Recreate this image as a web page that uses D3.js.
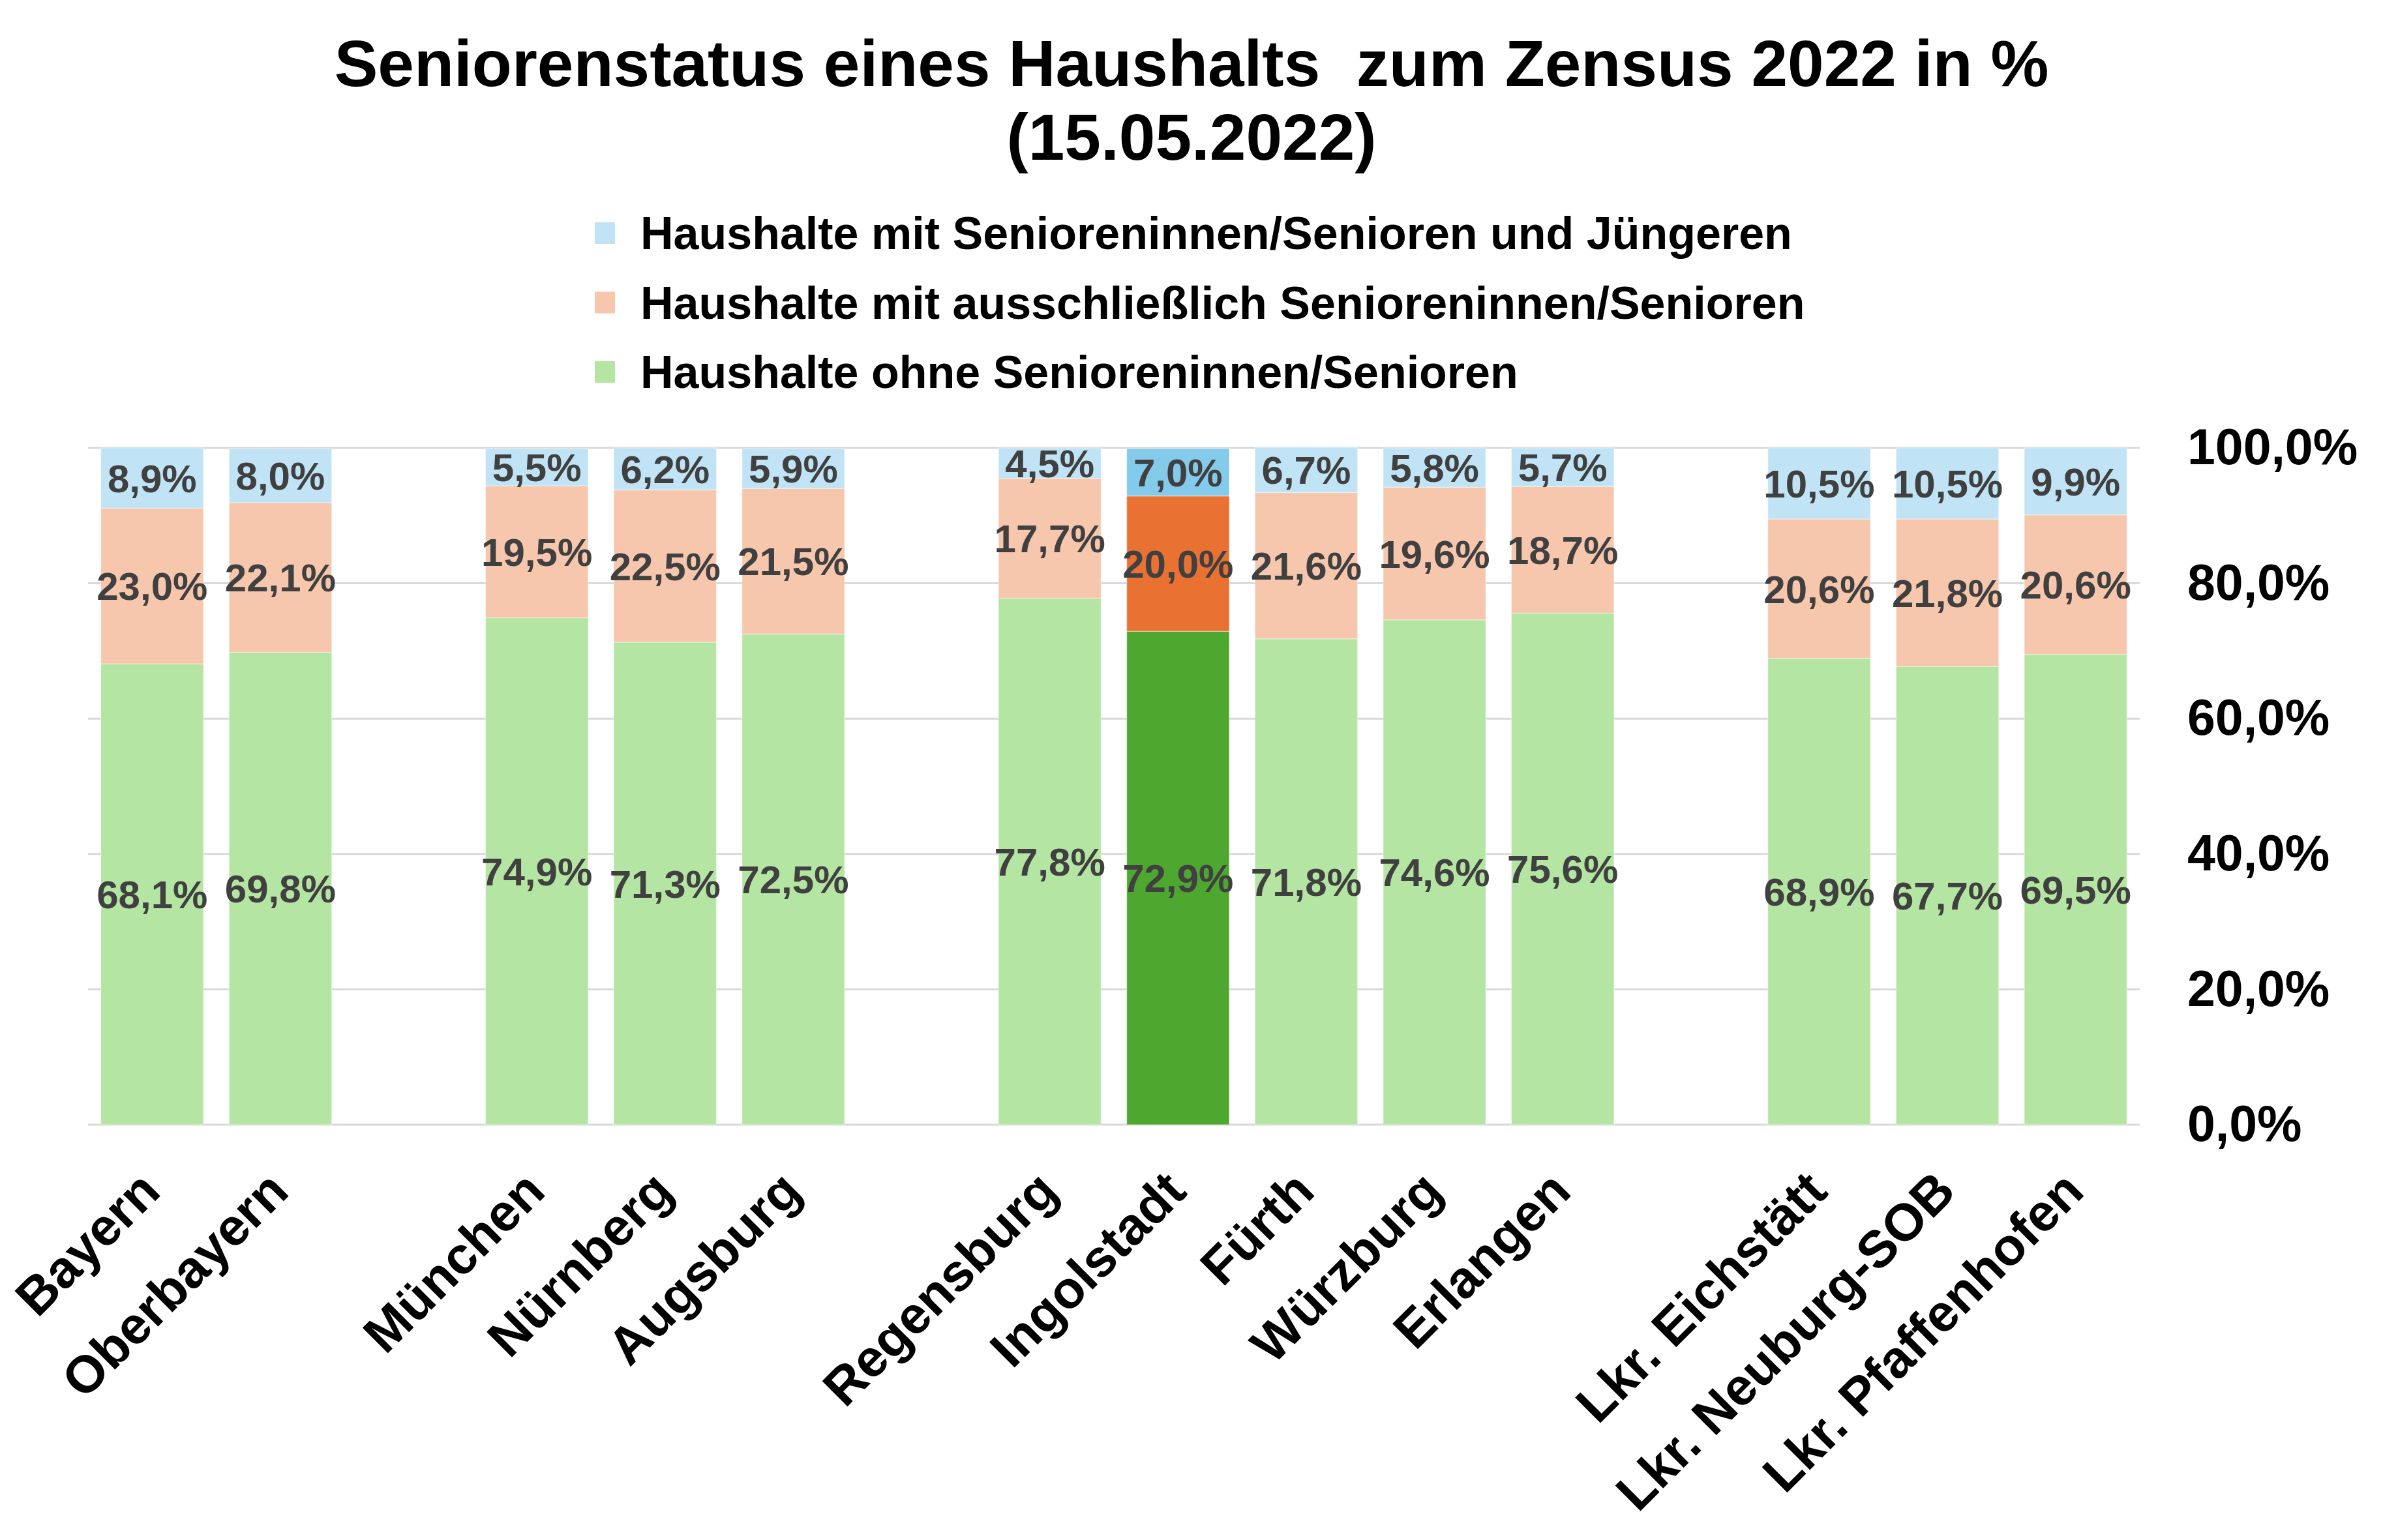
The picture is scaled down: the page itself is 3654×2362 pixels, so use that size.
<!DOCTYPE html>
<html>
<head>
<meta charset="utf-8">
<script src="https://cdn.jsdelivr.net/npm/d3@7"></script>
<style>
  body { margin: 0; background: #fff; }
  svg { display: block; font-family: "Liberation Sans", Arial, sans-serif; }
</style>
</head>
<body>
<div id="chart"></div>
<script>
// Data
const categories = ["Bayern", "Oberbayern", "München", "Nürnberg", "Augsburg",
  "Regensburg", "Ingolstadt", "Fürth", "Würzburg", "Erlangen",
  "Lkr. Eichstätt", "Lkr. Neuburg-SOB", "Lkr. Pfaffenhofen"];
// group number per category (a gap slot is left before each new group)
const groups = [0, 0, 1, 1, 1, 2, 2, 2, 2, 2, 3, 3, 3];
const ohneSenioren = [68.1, 69.8, 74.9, 71.3, 72.5, 77.8, 72.9, 71.8, 74.6, 75.6, 68.9, 67.7, 69.5];
const nurSenioren = [23.0, 22.1, 19.5, 22.5, 21.5, 17.7, 20.0, 21.6, 19.6, 18.7, 20.6, 21.8, 20.6];
const mitJuengeren = [8.9, 8.0, 5.5, 6.2, 5.9, 4.5, 7.0, 6.7, 5.8, 5.7, 10.5, 10.5, 9.9];
const yTicks = [0, 20, 40, 60, 80, 100];
const highlight = "Ingolstadt";

const seriesNames = [
  "Haushalte ohne Senioreninnen/Senioren",
  "Haushalte mit ausschließlich Senioreninnen/Senioren",
  "Haushalte mit Senioreninnen/Senioren und Jüngeren"
];
const lightColors = ["#B4E5A2", "#F6C6AD", "#C0E4F5"];
const darkColors = ["#4EA72E", "#E97132", "#83CAEB"];

const W = 3654, H = 2362;
const plot = { left: 135, right: 3281, top: 687, bottom: 1725 };

const de = d3.formatLocale({ decimal: ",", thousands: ".", grouping: [3], currency: ["", " €"] });
const pct = v => de.format(".1f")(v) + "%";

const svg = d3.select("#chart").append("svg")
  .attr("width", W).attr("height", H)
  .attr("viewBox", `0 0 ${W} ${H}`);

// Title
svg.append("text")
  .attr("x", W / 2).attr("y", 132)
  .attr("text-anchor", "middle")
  .style("font-size", "100px").style("font-weight", "bold")
  .style("white-space", "pre")
  .text("Seniorenstatus eines Haushalts  zum Zensus 2022 in %");
svg.append("text")
  .attr("x", W / 2).attr("y", 245)
  .attr("text-anchor", "middle")
  .style("font-size", "100px").style("font-weight", "bold")
  .text("(15.05.2022)");

// Legend (top to bottom: reverse of stack order)
const legendOrder = [2, 1, 0];
const legend = svg.append("g");
legendOrder.forEach((s, i) => {
  const base = 382 + i * 106.5;
  legend.append("rect")
    .attr("x", 912).attr("y", base - 41)
    .attr("width", 31).attr("height", 33)
    .attr("fill", lightColors[s]);
  legend.append("text")
    .attr("x", 982).attr("y", base)
    .style("font-size", "70px").style("font-weight", "bold")
    .text(seriesNames[s]);
});

// Scales
const slots = categories.map((c, i) => i + groups[i]);
const nSlots = d3.max(slots) + 1;
const x = d3.scaleBand()
  .domain(d3.range(nSlots))
  .range([plot.left, plot.right])
  .paddingInner(0.2)
  .paddingOuter(0.1);
const y = d3.scaleLinear().domain([0, 100]).range([plot.bottom, plot.top]);

// Gridlines
svg.append("g").selectAll("line")
  .data(yTicks)
  .join("line")
  .attr("x1", plot.left).attr("x2", plot.right)
  .attr("y1", d => y(d)).attr("y2", d => y(d))
  .attr("stroke", "#D9D9D9").attr("stroke-width", 3);

// Stacked data
const rows = categories.map((c, i) => ({
  name: c, slot: slots[i],
  values: [ohneSenioren[i], nurSenioren[i], mitJuengeren[i]]
}));
rows.forEach(r => {
  let acc = 0;
  r.segs = r.values.map((v, s) => {
    const seg = { s, v, y0: acc, y1: acc + v, name: r.name, slot: r.slot };
    acc += v;
    return seg;
  });
});
const segs = rows.flatMap(r => r.segs);

const bars = svg.append("g");
bars.selectAll("rect")
  .data(segs)
  .join("rect")
  .attr("x", d => x(d.slot))
  .attr("width", x.bandwidth())
  .attr("y", d => y(d.y1))
  .attr("height", d => y(d.y0) - y(d.y1))
  .attr("fill", d => d.name === highlight ? darkColors[d.s] : lightColors[d.s])
  .attr("stroke", "#ffffff").attr("stroke-opacity", 0.35).attr("stroke-width", 1.5);

// Data labels
svg.append("g").selectAll("text")
  .data(segs)
  .join("text")
  .attr("x", d => x(d.slot) + x.bandwidth() / 2)
  .attr("y", d => (y(d.y0) + y(d.y1)) / 2)
  .attr("dy", "0.36em")
  .attr("text-anchor", "middle")
  .attr("fill", "#404040")
  .style("font-size", "60px").style("font-weight", "bold")
  .text(d => pct(d.v));

// Right value axis
const yAxis = svg.append("g")
  .attr("transform", `translate(${plot.right},0)`)
  .call(d3.axisRight(y).tickValues(yTicks).tickSize(0).tickPadding(73).tickFormat(pct));
yAxis.select(".domain").remove();
yAxis.selectAll("text")
  .attr("fill", "#000")
  .style("font-family", "\"Liberation Sans\", Arial, sans-serif")
  .style("font-size", "77px").style("font-weight", "bold");

// Category labels, rotated
svg.append("g").selectAll("text")
  .data(rows)
  .join("text")
  .attr("transform", d => `translate(${x(d.slot) + x.bandwidth() / 2 + 16},${plot.bottom + 106}) rotate(-45)`)
  .attr("text-anchor", "end")
  .style("font-size", "80px").style("font-weight", "bold")
  .text(d => d.name);
</script>
</body>
</html>
